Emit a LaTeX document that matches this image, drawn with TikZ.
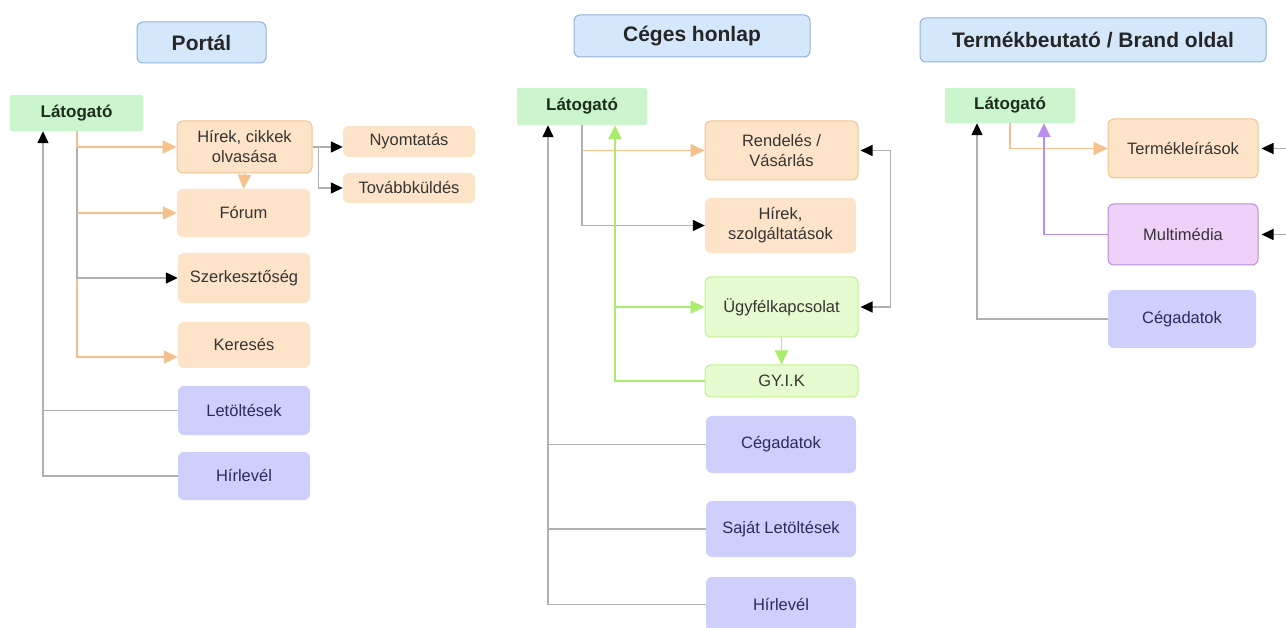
\documentclass[tikz,border=0pt]{standalone}
\usepackage{fontspec}
\setmainfont{Liberation Sans}
\usetikzlibrary{arrows.meta}

\definecolor{titlefill}{HTML}{D5E8FB}
\definecolor{titledraw}{HTML}{8FB2DC}
\definecolor{visitfill}{HTML}{CBF6CD}
\definecolor{visittext}{HTML}{1E2E1E}
\definecolor{orangefill}{HTML}{FDE3C8}
\definecolor{orangedraw}{HTML}{F2C490}
\definecolor{bluefill}{HTML}{CFCFFB}
\definecolor{bluetext}{HTML}{2C2C58}
\definecolor{greenfill}{HTML}{E6FBD0}
\definecolor{greendraw}{HTML}{C2F08E}
\definecolor{purplefill}{HTML}{EFD0F8}
\definecolor{purpledraw}{HTML}{B690D6}
\definecolor{boxtext}{HTML}{353535}
\definecolor{linegrey}{HTML}{B0B0B0}
\definecolor{oline}{HTML}{F5C08C}
\definecolor{gline}{HTML}{A8EE6C}
\definecolor{pline}{HTML}{B88EEE}

\tikzset{
  sz/.style 2 args={minimum width=#1pt, minimum height=#2pt},
  box/.style={rounded corners=6pt, inner sep=2pt, align=center,
    font=\fontsize{16.5}{20}\selectfont, text=boxtext},
  titlebox/.style={box, fill=titlefill, draw=titledraw, line width=1pt,
    font=\bfseries\fontsize{21}{24}\selectfont, text=black!85},
  visitor/.style={box, rounded corners=2pt, fill=visitfill,
    font=\bfseries\fontsize{17}{20}\selectfont, text=visittext},
  orangebox/.style={box, fill=orangefill},
  bluebox/.style={box, fill=bluefill, text=bluetext},
  greenbox/.style={box, fill=greenfill, draw=greendraw, line width=1pt},
  purplebox/.style={box, fill=purplefill, draw=purpledraw, line width=1pt},
  wire/.style={draw=linegrey, line width=1.4pt},
  link/.style={wire, -{Triangle[black,length=12pt,width=11pt]}},
  olink/.style={draw=oline, line width=1.8pt, -{Triangle[length=14pt,width=13pt]}},
  glink/.style={draw=gline, line width=1.8pt, -{Triangle[length=14pt,width=13pt]}},
  plink/.style={draw=pline, line width=1.8pt, -{Triangle[length=14pt,width=13pt]}},
}

\begin{document}
\begin{tikzpicture}[x=1pt,y=-1pt]
  \useasboundingbox (0,0) rectangle (1286,628);

  % Portal
  \node[titlebox, sz={129}{41}] (tP) at (201.5,42.5) {Portál};
  \node[visitor, sz={133}{36}] (latP) at (76.5,113) {Látogató};
  \node[orangebox, draw=orangedraw, line width=1pt, sz={135}{52}] (hirek) at (244.5,147) {Hírek, cikkek\\olvasása};
  \node[orangebox, sz={132}{31}] (nyomt) at (409,141.5) {Nyomtatás};
  \node[orangebox, sz={132}{30}] (tovabb) at (409,188) {Továbbküldés};
  \node[orangebox, sz={133}{48}] (forum) at (243.5,213) {Fórum};
  \node[orangebox, sz={132}{50}] (szerk) at (244,278) {Szerkesztőség};
  \node[orangebox, sz={132}{46}] (keres) at (244,345) {Keresés};
  \node[bluebox, sz={132}{49}] (letoltP) at (244,410.5) {Letöltések};
  \node[bluebox, sz={132}{48}] (hirlevP) at (244,476) {Hírlevél};

  \coordinate (gP) at ([xshift=-33.5pt]latP.south);
  \coordinate (oP) at ([xshift=0.5pt]latP.south);
  \coordinate (kIn) at ([yshift=-12pt]keres.west);
  \draw[link] (hirlevP.west) -| (gP);
  \draw[wire] (letoltP.west) -- (gP |- letoltP.west);
  \draw[olink] (oP) |- (kIn);
  \draw[link] (oP) |- (szerk.west);
  \draw[olink] (oP) |- (hirek.west);
  \draw[olink] (oP |- forum.west) -- (forum.west);
  \draw[olink] (hirek.south) -- (forum.north);
  \draw[link] (hirek.east) -- (hirek.east -| nyomt.west);
  \draw[link] (hirek.east) -- ++(6,0) |- (tovabb.west);

  % Ceges honlap
  \node[titlebox, sz={236}{42}] (tC) at (692,36) {Céges honlap};
  \node[visitor, sz={130}{37}] (latC) at (582,106.5) {Látogató};
  \node[orangebox, draw=orangedraw, line width=1pt, sz={153}{59}] (rend) at (781.5,150.5) {Rendelés /\\Vásárlás};
  \node[orangebox, sz={151}{55}] (hirC) at (780.5,225.5) {Hírek,\\szolgáltatások};
  \node[greenbox, sz={153}{60}] (ugyf) at (781.5,307) {Ügyfélkapcsolat};
  \node[greenbox, sz={153}{32}] (gyik) at (781.5,381) {GY.I.K};
  \node[bluebox, sz={150}{57}] (cegC) at (781,444.5) {Cégadatok};
  \node[bluebox, sz={150}{56}] (sajat) at (781,529) {Saját Letöltések};
  \node[bluebox, sz={150}{55}] (hirlevC) at (781,604.5) {Hírlevél};

  \coordinate (gC) at ([xshift=-34pt]latC.south);
  \coordinate (grC) at ([xshift=33pt]latC.south);
  \draw[link] (hirlevC.west) -| (gC);
  \draw[wire] (cegC.west) -- (gC |- cegC.west);
  \draw[wire] (sajat.west) -- (gC |- sajat.west);
  \draw[olink] (latC.south) |- (rend.west);
  \draw[link] (latC.south) |- (hirC.west);
  \draw[glink] (gyik.west) -| (grC);
  \draw[glink] (grC |- ugyf.west) -- (ugyf.west);
  \draw[glink] (ugyf.south) -- (gyik.north);
  \draw[wire, {Triangle[black,length=12pt,width=11pt]}-{Triangle[black,length=12pt,width=11pt]}, shorten <=2pt, shorten >=2pt]
    (rend.east) -- ++(32,0) |- (ugyf.east);

  % Termekbemutato
  \node[titlebox, sz={346}{44}] (tT) at (1093,40) {Termékbeutató / Brand oldal};
  \node[visitor, sz={130}{35}] (latT) at (1010,105.5) {Látogató};
  \node[orangebox, draw=orangedraw, line width=1pt, sz={150}{59}] (termek) at (1183,148.5) {Termékleírások};
  \node[purplebox, sz={150}{61}] (multi) at (1183,234.5) {Multimédia};
  \node[bluebox, sz={148}{58}] (cegT) at (1182,319) {Cégadatok};

  \coordinate (gT) at ([xshift=-33pt]latT.south);
  \coordinate (pT) at ([xshift=34pt]latT.south);
  \coordinate (edgeT) at (1292,0);
  \draw[link] (cegT.west) -| (gT);
  \draw[olink] (latT.south) |- (termek.west);
  \draw[plink] (multi.west) -| (pT);
  \draw[link, shorten >=3pt] (edgeT |- termek.east) -- (termek.east);
  \draw[link, shorten >=3pt] (edgeT |- multi.east) -- (multi.east);
\end{tikzpicture}
\end{document}
